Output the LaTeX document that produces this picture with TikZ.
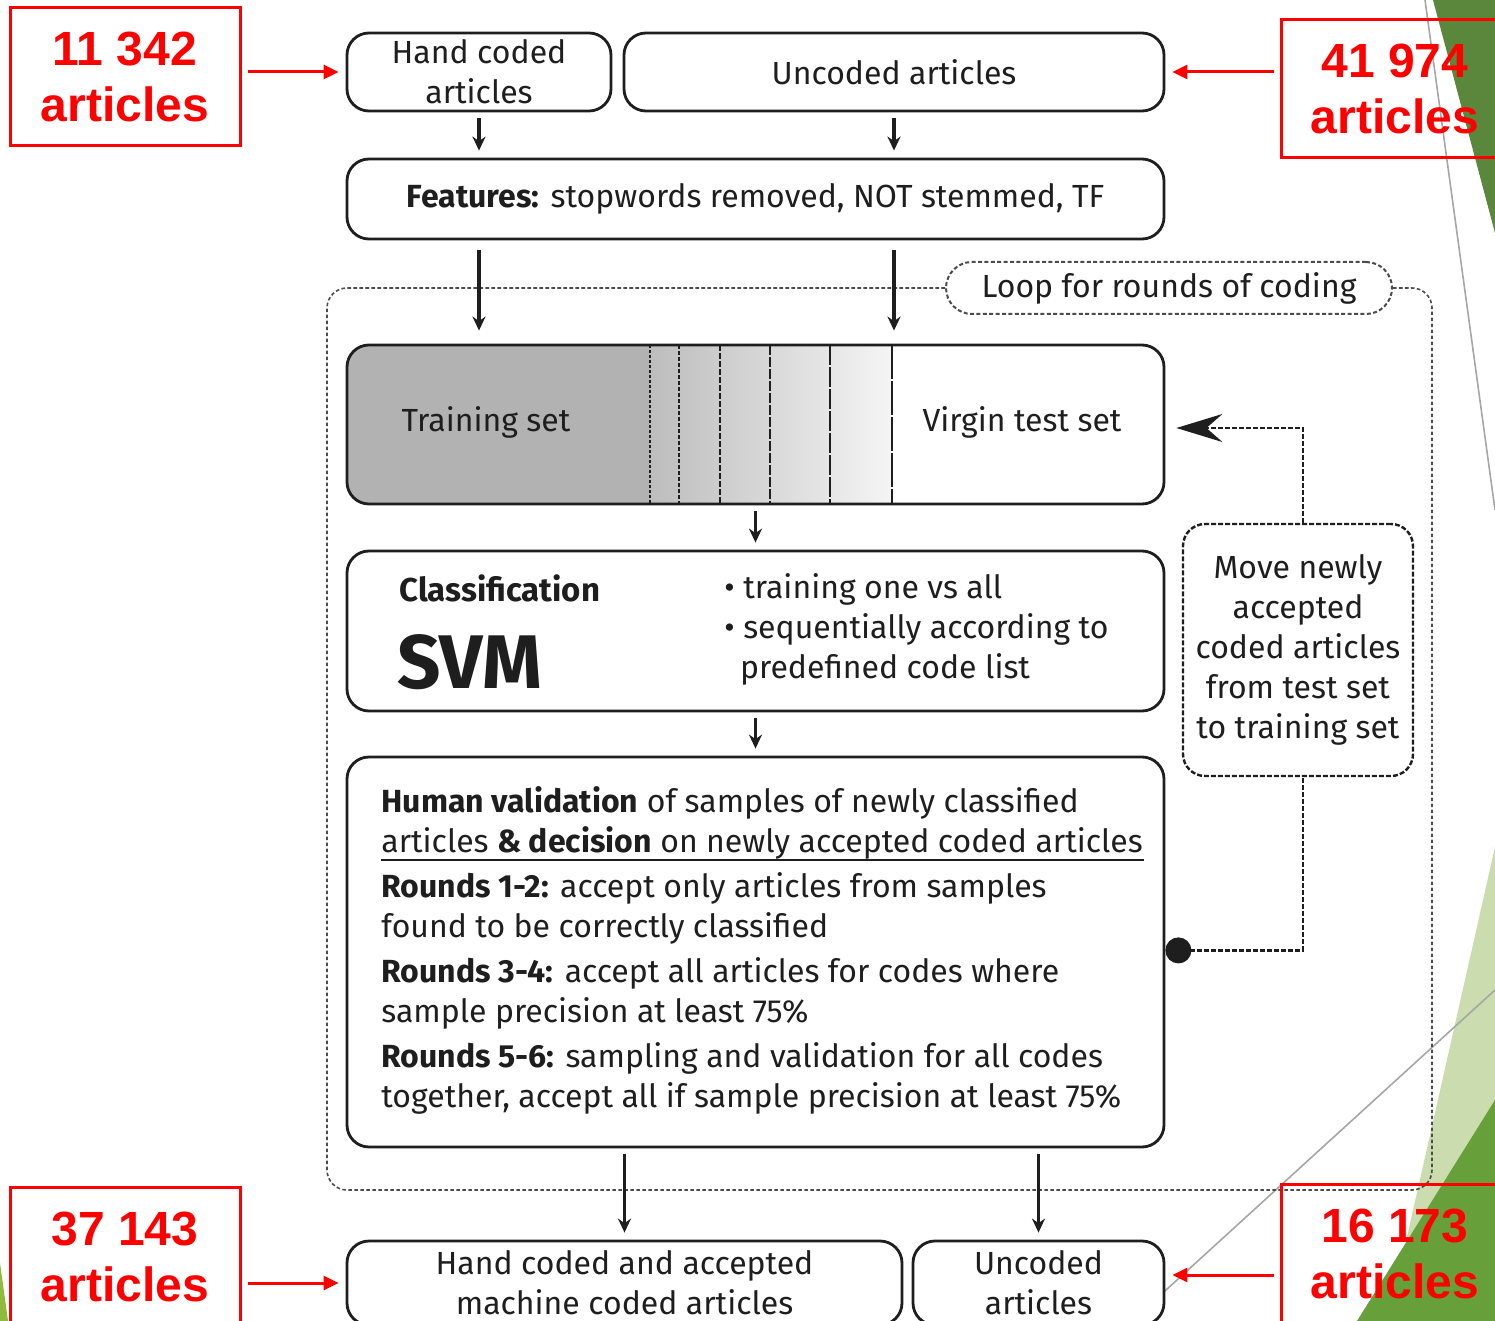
\documentclass[tikz,border=0pt]{standalone}
\usepackage{fontspec}
\setmainfont{Fira Sans}
\newfontfamily\countfont{Liberation Sans}
\usetikzlibrary{arrows.meta,positioning}

\definecolor{darkleaf}{HTML}{5A873C}
\definecolor{paleleaf}{HTML}{CBDCAE}
\definecolor{midleaf}{HTML}{67A03A}
\definecolor{limeleaf}{HTML}{8FBC3C}
\definecolor{ink}{HTML}{1E1E1E}

\tikzset{
  box/.style={draw=ink, line width=1.4pt, rounded corners=11pt, fill=white,
    align=center, text=ink, inner sep=0pt, font=\fontsize{16}{20}\selectfont},
  plain/.style={text=ink, inner sep=0pt, font=\fontsize{16}{20}\selectfont},
  count/.style={draw=red, line width=1.5pt, text=red, align=center,
    font=\countfont\bfseries\fontsize{24}{28}\selectfont},
  feed/.style={draw=red, line width=1.5pt, shorten <=3pt, shorten >=3.5pt,
    -{Triangle[length=7.5pt,width=7pt]}},
  flow/.style={draw=ink, line width=1.9pt, shorten <=3pt, shorten >=3.5pt,
    -{Stealth[length=7pt,width=6.5pt]}},
  loopframe/.style={draw=black!70, line width=0.8pt,
    dash pattern=on 1.8pt off 1.2pt, rounded corners=10pt},
  backline/.style={draw=ink, line width=1.1pt, dash pattern=on 2.5pt off 1pt},
}

\begin{document}
\begin{tikzpicture}[x=0.5pt,y=-0.5pt]
\path[use as bounding box, clip] (0,0) rectangle (1495,1321);

% slide background
\fill[darkleaf] (1433,0) -- (1495,0) -- (1495,233) -- cycle;
\fill[paleleaf] (1495,847) -- (1495,1321) -- (1388,1321) -- cycle;
\fill[midleaf] (1495,1100) -- (1495,1321) -- (1357,1321) -- cycle;
\fill[limeleaf] (0,1263) -- (8,1321) -- (0,1321) -- cycle;
\draw[black!35, line width=0.8pt] (1425,0) -- (1495,510);
\draw[black!35, line width=0.8pt] (1495,990) -- (1132,1321);

% loop frame
\node[box, draw=black!70, line width=1pt, dash pattern=on 2pt off 1.2pt,
  rounded corners=13pt, minimum width=223pt, minimum height=26pt]
  (looplabel) at (1169,288) {Loop for rounds of coding};
\draw[loopframe] (looplabel.west) -| (327,1190) -| (1432,288) -- (looplabel.east);

% inputs
\node[box, minimum width=132pt, minimum height=39pt] (hand) at (479,72) {Hand coded\\articles};
\node[box, minimum width=270pt, minimum height=39pt] (uncoded) at (894,72) {Uncoded articles};
\node[box, minimum width=408.5pt, minimum height=40pt] (features) at (755.5,199)
  {\textbf{Features:} stopwords removed, NOT stemmed, TF};

% training / test split
\begin{scope}
  \clip[rounded corners=11pt] (347,345) rectangle (1164,504);
  \fill[gray!60] (347,345) rectangle (650,504);
  \shade[left color=gray!52, right color=gray!8] (650,345) rectangle (892,504);
\end{scope}
\foreach \x/\d in {650/1.5,679/2,720/3,770/5,830/10,892/17}
  \draw[ink, line width=1.2pt, dash pattern=on \d pt off 1pt] (\x,345) -- (\x,504);
\node[box, fill=none, minimum width=408.5pt, minimum height=79.5pt] (sets) at (755.5,424.5) {};
\node[plain] (training) at (486,422) {Training set};
\node[plain] (virgin) at (1022,422) {Virgin test set};

% classifier
\node[box, minimum width=408.5pt, minimum height=80pt] (svmbox) at (755.5,631) {};
\node[plain, anchor=west, font=\bfseries\fontsize{16.5}{20}\selectfont] (classif) at (399,588) {Classification};
\node[plain, anchor=west, font=\bfseries\fontsize{38}{42}\selectfont] (svm) at (397,662) {SVM};
\node[plain, anchor=west, align=left] (steps) at (724,629)
  {\textbullet\ training one vs all\\
   \textbullet\ sequentially according to\\
   \phantom{\textbullet}\,predefined code list};

% validation
\node[box, minimum width=408.5pt, minimum height=195pt] (valid) at (755.5,952) {};
\node[plain, anchor=west, align=left] (rules) at (381,950)
  {\textbf{Human validation} of samples of newly classified\\
   articles \textbf{\& decision} on newly accepted coded articles\\[2.5pt]
   \textbf{Rounds 1-2:} accept only articles from samples\\
   found to be correctly classified\\[2.5pt]
   \textbf{Rounds 3-4:} accept all articles for codes where\\
   sample precision at least 75\%\\[2.5pt]
   \textbf{Rounds 5-6:} sampling and validation for all codes\\
   together, accept all if sample precision at least 75\%};
\draw[ink, line width=1.2pt] (381,860) -- (1144,860);

% feedback
\node[box, dash pattern=on 2.5pt off 1pt, line width=1.2pt, minimum width=115pt,
  minimum height=126pt] (move) at (1298,650)
  {Move newly\\accepted\\coded articles\\from test set\\to training set};
\draw[backline, {Circle[length=13pt]}-] ([yshift=0.8pt]valid.east) -| ([xshift=2.5pt]move.south);
\draw[backline, shorten >=5.5pt, -{Stealth[length=23pt,width=14pt,inset=8pt]}]
  ([xshift=2.5pt]move.north) |- ([yshift=-1.75pt]sets.east);

% outputs
\node[box, minimum width=277.5pt, minimum height=42pt] (accepted) at (624.5,1283)
  {Hand coded and accepted\\machine coded articles};
\node[box, minimum width=125.5pt, minimum height=42pt] (leftover) at (1038.5,1283)
  {Uncoded\\articles};

% flow arrows
\draw[flow] (hand.south) -- (hand.south |- features.north);
\draw[flow] (uncoded.south) -- (uncoded.south |- features.north);
\draw[flow, shorten <=5pt, shorten >=6.5pt] (features.south -| hand.south) -- (sets.north -| hand.south);
\draw[flow, shorten <=5pt, shorten >=6.5pt] (features.south -| uncoded.south) -- (sets.north -| uncoded.south);
\draw[flow] (sets.south -| svmbox.north) -- (svmbox.north);
\draw[flow] (svmbox.south) -- (valid.north);
\draw[flow] (valid.south -| accepted.north) -- (accepted.north);
\draw[flow] (valid.south -| leftover.north) -- (leftover.north);

% article counts
\node[count, minimum width=115pt, minimum height=69pt] (count_in) at (125,77) {11 342\\articles};
\node[count, minimum width=114pt, minimum height=69pt] (count_raw) at (1395,89) {41 974\\articles};
\node[count, minimum width=115pt, minimum height=70pt] (count_coded) at (125,1257) {37 143\\articles};
\node[count, minimum width=114pt, minimum height=70pt] (count_left) at (1395,1254) {16 173\\articles};
\draw[feed] (count_in.east |- hand.west) -- (hand.west);
\draw[feed] (count_raw.west |- uncoded.east) -- (uncoded.east);
\draw[feed] (count_coded.east |- accepted.west) -- (accepted.west);
\draw[feed] (count_left.west |- 0,1275) -- (leftover.east |- 0,1275);
\end{tikzpicture}
\end{document}
